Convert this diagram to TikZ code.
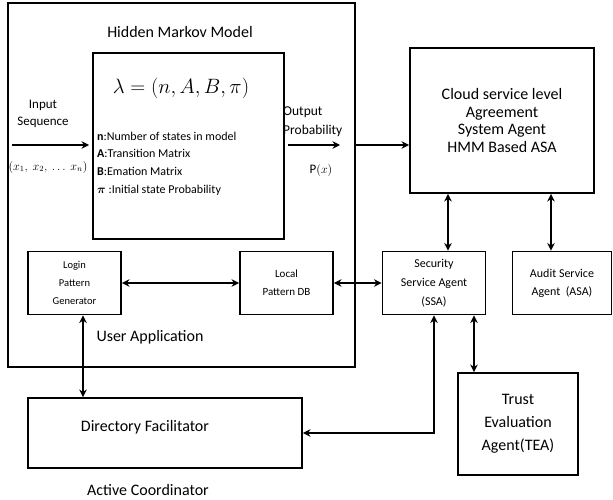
\documentclass[tikz,border=0pt]{standalone}
\usepackage{fontspec}
\setmainfont{Carlito}
\usetikzlibrary{arrows.meta}
\newcommand{\fs}[2]{\fontsize{#1}{#2}\selectfont}
\begin{document}
\begin{tikzpicture}[x=1pt,y=-1pt,
  box/.style={draw, line width=1.9pt, rectangle, inner sep=0pt, align=center},
  lbl/.style={inner sep=0pt, align=center},
  tip/.tip={Stealth[length=7.5pt,width=7.5pt]},
  con/.style={line width=2pt, {tip}-{tip}},
  one/.style={line width=2pt, -{tip}},
  ]
\useasboundingbox (0,0) rectangle (613,500);
\fill[white] (0,0) rectangle (613,500);

% ---- Hidden Markov Model / user application frame
\node[box, line width=2.2pt, minimum width=347pt, minimum height=364pt] (hmm) at (181.5,185) {};
\node[lbl, font=\fs{16}{18}] (hmmT) at (180,32) {Hidden Markov Model};
\node[lbl, font=\fs{16}{18}] (uapp) at (150,337) {User Application};

% ---- model parameters
\node[box, minimum width=191pt, minimum height=186pt] (lam) at (188.5,146) {};
\node[lbl] (eq) at (181,88) {\fs{21}{24}$\lambda = (n, A, B, \pi)$};
\node[lbl, anchor=west, align=left, font=\fs{12}{17.7}] (list) at (97,163.5)
  {\textbf{n}:Number of states in model\\
   \textbf{A}:Transition Matrix\\
   \textbf{B}:Emation Matrix\\
   {\boldmath$\pi$} :Initial state Probability};

% ---- input / output
\node[lbl, font=\fs{13}{17}] (inT) at (43,113.5) {Input\\Sequence};
\node[lbl] (inX) at (48,167) {\fs{12}{14}$(x_1,\ x_2,\ \ldots\ x_n)$};
\node[lbl, anchor=west, align=left, font=\fs{13.5}{19}] (outT) at (283,122) {Output\\Probability};
\node[lbl, font=\fs{13}{15}] (outP) at (321,170) {P$(x)$};
\coordinate (inS) at (12,145);
\coordinate (outE) at (340,145);

% ---- inner agents
\node[box, minimum width=93pt, minimum height=63pt, font=\fs{10.5}{18}] (login) at (74.5,283) {Login\\Pattern\\Generator};
\node[box, minimum width=93pt, minimum height=63pt, font=\fs{11}{18}] (local) at (286.5,283) {Local\\Pattern DB};

% ---- outer agents
\node[box, minimum width=184pt, minimum height=145pt, font=\fs{16}{17.5}] (cloud) at (502,120.5)
  {Cloud service level\\Agreement\\System Agent\\HMM Based ASA};
\node[box, minimum width=103pt, minimum height=63pt, font=\fs{12}{19}] (ssa) at (434,283) {Security\\Service Agent\\(SSA)};
\node[box, minimum width=99pt, minimum height=63pt, font=\fs{12}{18}] (asa) at (562,283) {Audit Service\\Agent \ (ASA)};
\node[box, minimum width=120pt, minimum height=102pt, font=\fs{16}{23}] (tea) at (518,424) {Trust\\Evaluation\\Agent(TEA)};
\node[box, minimum width=274pt, minimum height=70pt] (df) at (165,433) {};
\node[lbl, font=\fs{16}{18}] (dfT) at (145,427) {Directory Facilitator};
\node[lbl, font=\fs{16}{18}] (acT) at (148,490) {Active Coordinator};

% ---- connector columns
\coordinate (xc1) at (448,0);
\coordinate (xc2) at (551,0);
\coordinate (xc3) at (83,0);
\coordinate (xc4) at (474,0);

% ---- connectors
\draw[one, shorten >=3pt] (inS) -- (inS -| lam.west);
\draw[one, shorten <=3pt] (lam.east |- outE) -- (outE);
\draw[one] (hmm.east |- outE) -- (cloud.west |- outE);
\draw[con] (cloud.south -| xc1) -- (ssa.north -| xc1);
\draw[con] (cloud.south -| xc2) -- (asa.north -| xc2);
\draw[con] (login.east) -- (local.west);
\draw[con] (local.east) -- (ssa.west);
\draw[con] (login.south -| xc3) -- (df.north -| xc3);
\draw[con] (ssa.south) |- (df.east);
\draw[con] (ssa.south -| xc4) -- (tea.north -| xc4);
\end{tikzpicture}
\end{document}
